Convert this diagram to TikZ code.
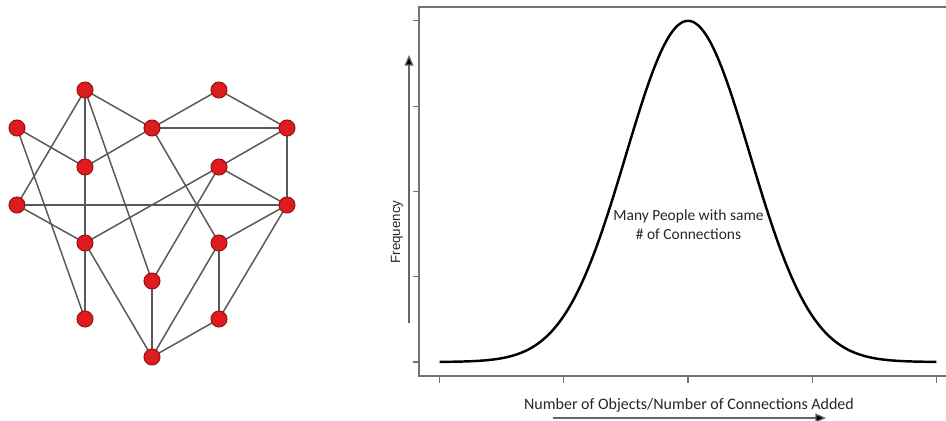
\documentclass[tikz,border=0pt]{standalone}
\usepackage{fontspec}
\setmainfont{Carlito}
\newfontfamily\plotfont{Liberation Sans}
\usetikzlibrary{arrows.meta,positioning}
\definecolor{nodered}{RGB}{222,28,32}
\definecolor{noderim}{RGB}{150,20,22}
\tikzset{
  person/.style={circle, draw=noderim, fill=nodered, line width=0.6pt, minimum size=0.32cm, inner sep=0pt},
  link/.style={draw=black!65, line width=0.85pt},
  frame/.style={draw=black!55, line width=0.6pt},
  tick/.style={draw=black!55, line width=0.6pt},
  curve/.style={black, line width=1.4pt, line join=round},
  axisarrow/.style={draw=black!60, line width=0.7pt, -{Triangle[length=6pt,width=5pt,fill=black]}},
  note/.style={font=\fontsize{8.8}{10.8}\selectfont, align=center, text=black!85},
  ylab/.style={font=\plotfont\fontsize{7.6}{9}\selectfont, text=black!85, rotate=90}
}

\begin{document}
\begin{tikzpicture}[x=0.02cm,y=0.02cm]
  \useasboundingbox (0,0) rectangle (946,421);
  % network of people
  \foreach \name/\x/\y in {a/85/331, b/219/331, c/17/293, d/152/293, e/287/293,
      f/85/254, g/219/254, h/17/216, i/287/216, j/85/178, k/219/178,
      l/152/140, m/85/102, n/219/102, o/152/64}
    \coordinate (\name) at (\x,\y);
  \foreach \u/\v in {a/h, a/f, a/d, a/l, c/f, c/m, d/f, d/b, d/e, d/k, b/e,
      e/g, e/i, g/i, g/j, g/l, h/i, h/j, f/j, j/m, j/o, i/k, i/n, k/n,
      k/o, n/o, l/o}
    \draw[link] (\u) -- (\v);
  \foreach \name in {a,b,c,d,e,f,g,h,i,j,k,l,m,n,o}
    \node[person] (p\name) at (\name) {};

  % distribution plot
  \draw[frame] (946,414) -- (419,414) -- (419,45) -- (946,45);
  \foreach \t in {0,1,2,3,4}{
    \pgfmathsetmacro{\ty}{59+85.28*\t}
    \draw[tick] (413,\ty) -- (419,\ty);
  }
  \foreach \t in {-4,-2,0,2,4}{
    \pgfmathsetmacro{\tx}{688+62.1*\t}
    \draw[tick] (\tx,45) -- (\tx,38);
  }
  \draw[curve,domain=-4:4,samples=201] plot({688+62.1*\x},{59+341.1*exp(-\x*\x/2)});
  \node[note] (peaknote) at (688.5,196) {Many People with same\\\# of Connections};

  \coordinate (ylow) at (409,98);
  \coordinate (yhigh) at (409,366);
  \draw[axisarrow] (ylow) -- (yhigh);
  \node[ylab] (freq) at (397,189) {Frequency};

  \node[note,font=\fontsize{9.1}{11}\selectfont] (xlabel) at (689,16) {Number of Objects/Number of Connections Added};
  \coordinate (xlow) at (553,3);
  \coordinate (xhigh) at (826,3);
  \draw[axisarrow] (xlow) -- (xhigh);
\end{tikzpicture}
\end{document}
